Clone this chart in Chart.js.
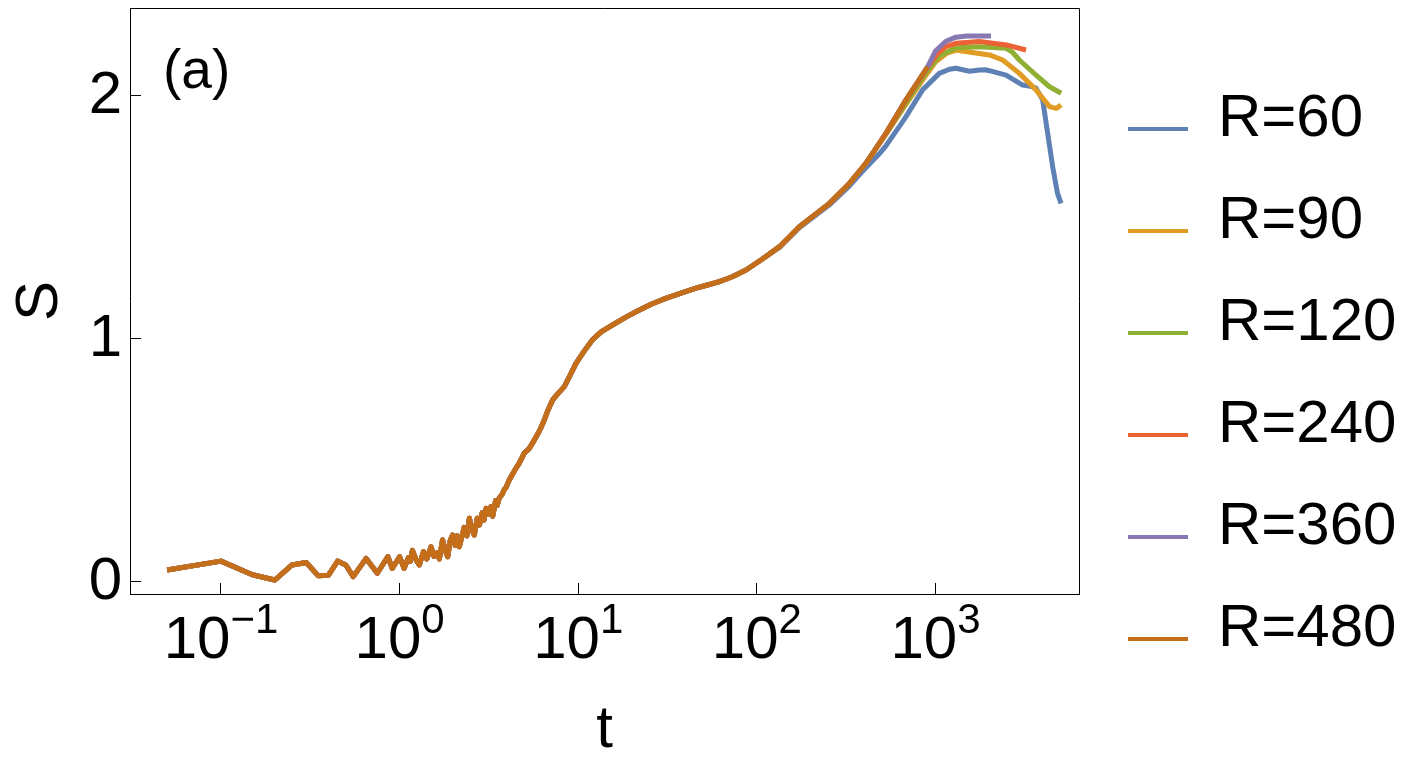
<!DOCTYPE html>
<html>
<head>
<meta charset="utf-8">
<script src="https://cdn.jsdelivr.net/npm/chart.js@4.4.1/dist/chart.umd.min.js"></script>
<style>
html,body{margin:0;padding:0;background:#fff;}
#wrap{width:1420px;height:762px;position:relative;}
</style>
</head>
<body>
<div id="wrap"><canvas id="c"></canvas></div>
<script>
// ---------------- data ----------------
const seriesLabels = ['R=60', 'R=90', 'R=120', 'R=240', 'R=360', 'R=480'];
const seriesColors = ['#5E81B5', '#E19C24', '#8FB032', '#EB6235', '#8778B3', '#C56E1A'];

// common early part (all R coincide)
const baseT = [0.05,0.1,0.15,0.2,0.25,0.3,0.35,0.4,0.45,0.5,0.55,0.65,0.75,0.86,0.91,1.0,1.06,1.12,1.15,1.18,1.24,1.29,1.36,1.42,1.5,1.56,1.62,1.67,1.74,1.8,1.86,1.92,1.98,2.05,2.1,2.16,2.3,2.38,2.46,2.54,2.62,2.72,2.8,2.9,2.97,3.05,3.15,3.25,3.32,3.45,3.52,3.61,3.75,3.85,3.95,4.11,4.3,4.5,4.67,4.99,5.3,5.68,6.1,6.46,6.8,7.19,7.7,8.36,9.0,9.72,10.8,12,13.5,15.6,18.5,22,26,30.9,38,45.7,53,61.7,73,87,108];
const baseS = [0.049,0.086,0.03,0.008,0.07,0.08,0.026,0.028,0.086,0.07,0.022,0.097,0.036,0.104,0.056,0.104,0.056,0.1,0.085,0.13,0.09,0.07,0.125,0.095,0.145,0.105,0.12,0.095,0.173,0.13,0.104,0.17,0.193,0.15,0.19,0.145,0.225,0.19,0.262,0.215,0.193,0.262,0.235,0.285,0.255,0.303,0.28,0.31,0.27,0.335,0.315,0.345,0.36,0.38,0.39,0.42,0.445,0.47,0.488,0.53,0.548,0.584,0.625,0.667,0.71,0.749,0.775,0.804,0.85,0.9,0.95,0.996,1.03,1.058,1.09,1.119,1.145,1.167,1.19,1.209,1.222,1.236,1.256,1.284,1.33];

// individual late parts
const tail60T  = [134,173,255,330,408,485,528,627,684,847,1051,1200,1304,1420,1548,1762,1900,2003,2485,3077,3400,3657,3984,4249,4531,4820,5047];
const tail60S  = [1.377,1.458,1.552,1.630,1.705,1.762,1.795,1.874,1.915,2.025,2.093,2.11,2.114,2.108,2.102,2.107,2.108,2.104,2.086,2.045,2.04,2.032,1.984,1.846,1.709,1.60,1.558];
const tail90T  = [134,173,255,330,408,528,684,847,1000,1150,1304,1500,2003,2378,2950,3657,4350,4750,5050];
const tail90S  = [1.38,1.462,1.558,1.64,1.723,1.842,1.965,2.065,2.14,2.175,2.189,2.182,2.169,2.148,2.093,2.025,1.956,1.949,1.963];
const tail120T = [134,173,255,330,408,528,684,904,1050,1304,1760,2494,2700,2950,3657,4350,5060];
const tail120S = [1.38,1.462,1.558,1.64,1.723,1.844,1.972,2.105,2.165,2.198,2.203,2.196,2.18,2.148,2.086,2.038,2.011];
const tail240T = [134,173,255,330,408,528,684,904,1030,1145,1310,1760,2494,3215];
const tail240S = [1.38,1.462,1.558,1.64,1.723,1.846,1.984,2.118,2.176,2.203,2.217,2.224,2.21,2.189];
const tail360T = [134,173,255,330,408,528,684,904,1000,1140,1300,1500,2047];
const tail360S = [1.38,1.462,1.558,1.64,1.723,1.846,1.984,2.12,2.185,2.224,2.242,2.247,2.247];
const tail480T = [134,173,255,330,408,528,684,904];
const tail480S = [1.38,1.462,1.558,1.64,1.723,1.846,1.984,2.12];

const tailsT = [tail60T, tail90T, tail120T, tail240T, tail360T, tail480T];
const tailsS = [tail60S, tail90S, tail120S, tail240S, tail360S, tail480S];

const xTickValues = [0.1, 1, 10, 100, 1000];
const xTickExponents = ['\u22121', '0', '1', '2', '3'];
const yTickValues = [0, 1, 2];
const xTitle = 't';
const yTitle = 'S';
const panelLabel = '(a)';

// ---------------- chart ----------------
const FONT = '"Liberation Sans", Arial, Helvetica, sans-serif';
Chart.defaults.font.family = FONT;
Chart.defaults.color = '#000';

function toPoints(ts, ss) { return ts.map((t, i) => ({x: t, y: ss[i]})); }

function swatch(color) {
  const c = document.createElement('canvas');
  c.width = 67; c.height = 24;
  const g = c.getContext('2d');
  g.fillStyle = color;
  g.fillRect(7, 20, 60, 4);
  return c;
}

const datasets = seriesLabels.map((lab, i) => ({
  label: lab,
  data: toPoints(baseT.concat(tailsT[i]), baseS.concat(tailsS[i])),
  borderColor: seriesColors[i],
  backgroundColor: seriesColors[i],
  borderWidth: 5,
  pointRadius: 0,
  pointHoverRadius: 0,
  tension: 0,
  borderJoinStyle: 'round',
  fill: false,
  order: seriesLabels.length - i
}));

const extrasPlugin = {
  id: 'extras',
  afterDraw(chart) {
    const {ctx, chartArea} = chart;
    const xs = chart.scales.x;
    ctx.save();
    // top and right frame lines
    ctx.strokeStyle = '#000';
    ctx.lineWidth = 1;
    ctx.beginPath();
    ctx.moveTo(chartArea.left, chartArea.top + 0.5);
    ctx.lineTo(chartArea.right + 0.5, chartArea.top + 0.5);
    ctx.lineTo(chartArea.right + 0.5, chartArea.bottom);
    ctx.stroke();
    // x tick labels with superscript exponents
    ctx.fillStyle = '#000';
    ctx.textAlign = 'left';
    ctx.textBaseline = 'alphabetic';
    xs.ticks.forEach(tk => {
      const idx = xTickValues.indexOf(tk.value);
      if (idx < 0) return;
      const px = xs.getPixelForValue(tk.value);
      const exp = xTickExponents[idx];
      ctx.font = '60px ' + FONT;
      const wb = ctx.measureText('10').width;
      ctx.font = '42px ' + FONT;
      const we = ctx.measureText(exp).width;
      const x0 = px - (wb + we) / 2;
      ctx.font = '60px ' + FONT;
      ctx.fillText('10', x0, xs.top + 64);
      ctx.font = '42px ' + FONT;
      ctx.fillText(exp, x0 + wb, xs.top + 39);
    });
    // panel label
    ctx.font = '55px ' + FONT;
    ctx.fillText(panelLabel, chartArea.left + 33, chartArea.top + 80);
    ctx.restore();
  }
};

new Chart(document.getElementById('c'), {
  type: 'line',
  data: {datasets},
  plugins: [extrasPlugin],
  options: {
    responsive: true,
    maintainAspectRatio: false,
    animation: false,
    events: [],
    layout: {padding: {top: 8, right: 14, bottom: 22, left: 0}},
    scales: {
      x: {
        type: 'logarithmic',
        position: 'bottom',
        min: 0.03096,
        max: 6363,
        afterBuildTicks(s) { s.ticks = xTickValues.map(v => ({value: v})); },
        afterFit(s) { s.height = 146; s.paddingLeft = 0; s.paddingRight = 0; },
        ticks: {display: false},
        grid: {display: true, drawOnChartArea: false, drawTicks: true, tickLength: -11, color: '#000', lineWidth: 1},
        border: {display: true, color: '#000', width: 1},
        title: {display: true, text: xTitle, color: '#000', font: {size: 60, lineHeight: '20px'}, padding: {top: 0, bottom: 0}}
      },
      y: {
        type: 'linear',
        position: 'left',
        min: -0.0494,
        max: 2.362,
        afterBuildTicks(s) { s.ticks = yTickValues.map(v => ({value: v})); },
        afterFit(s) { s.width = 130; s.paddingTop = 0; s.paddingBottom = 0; },
        ticks: {display: true, color: '#000', padding: 19, font: {size: 60}},
        grid: {display: true, drawOnChartArea: false, drawTicks: true, tickLength: -11, color: '#000', lineWidth: 1},
        border: {display: true, color: '#000', width: 1},
        title: {display: true, text: yTitle, color: '#000', font: {size: 60, lineHeight: 1}, padding: {top: 10, bottom: 0}}
      }
    },
    plugins: {
      tooltip: {enabled: false},
      legend: {
        display: true,
        position: 'right',
        align: 'center',
        maxWidth: 327,
        labels: {
          usePointStyle: true,
          pointStyleWidth: 67,
          padding: 42,
          color: '#000',
          font: {size: 60},
          sort: (a, b) => a.datasetIndex - b.datasetIndex,
          generateLabels(chart) {
            const items = Chart.defaults.plugins.legend.labels.generateLabels(chart);
            return items.map(it => Object.assign(it, {pointStyle: swatch(seriesColors[it.datasetIndex])}));
          }
        }
      }
    }
  }
});
</script>
</body>
</html>
